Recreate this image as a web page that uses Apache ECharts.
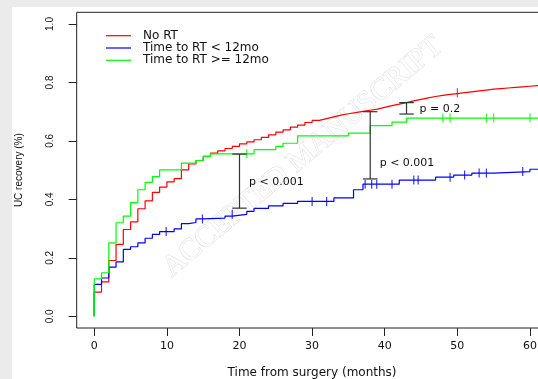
<!DOCTYPE html>
<html>
<head>
<meta charset="utf-8">
<script src="https://cdn.jsdelivr.net/npm/echarts@6/dist/echarts.min.js"></script>
<style>
html, body { margin: 0; padding: 0; background: #ebebeb; }
#chart { position: absolute; left: 12px; top: 7px; width: 526px; height: 372px; background: #fff; }
</style>
</head>
<body>
<div id="chart"></div>
<script>
// Kaplan-Meier style step curves
const seriesNames = ['No RT', 'Time to RT < 12mo', 'Time to RT >= 12mo']

const redT = [0, 0, 1, 2, 3, 4, 5, 6, 7, 8, 9, 10, 11, 12, 13, 14, 15, 16, 17, 18, 19, 20,
  21, 22, 23, 24, 25, 26, 27, 28, 29, 30, 31, 32, 33, 34, 35, 36, 37, 38, 39, 40,
  41, 42, 43, 44, 45, 46, 47, 48, 49, 50, 51, 52, 53, 54, 55, 56, 57, 58, 59, 60, 61, 62]
const redV = [0, 0.083, 0.118, 0.191, 0.246, 0.297, 0.323, 0.368, 0.395, 0.424, 0.442, 0.46, 0.471,
  0.501, 0.521, 0.533, 0.547, 0.558, 0.566, 0.574, 0.581, 0.59, 0.597, 0.604, 0.612, 0.621,
  0.63, 0.638, 0.647, 0.654, 0.663, 0.67, 0.676, 0.682, 0.688, 0.693, 0.697, 0.701, 0.705,
  0.709, 0.715, 0.721, 0.726, 0.731, 0.737, 0.742, 0.747, 0.752, 0.756, 0.759, 0.762, 0.765,
  0.768, 0.771, 0.774, 0.777, 0.779, 0.781, 0.783, 0.785, 0.787, 0.789, 0.791, 0.791]
const redCensor = [50]

const blueT = [0, 0, 1, 2, 3, 4, 5, 6, 7, 8, 9, 11, 12, 13, 14, 15, 18, 19, 21, 22, 24, 26, 28,
  33, 35.7, 37, 42, 47, 49.5, 52, 55, 60, 62]
const blueV = [0, 0.109, 0.131, 0.168, 0.186, 0.229, 0.238, 0.251, 0.267, 0.28, 0.29, 0.299, 0.317,
  0.321, 0.333, 0.336, 0.343, 0.349, 0.359, 0.369, 0.378, 0.386, 0.393, 0.405, 0.433, 0.452,
  0.466, 0.476, 0.483, 0.49, 0.495, 0.503, 0.503]
const blueCensor = [9.9, 14.9, 19, 30, 32, 37.3, 38.2, 38.9, 41, 44, 44.6, 49, 51, 53, 54, 59]

const greenT = [0, 0, 1, 2, 3, 4, 5, 6, 7, 8, 9, 12, 14, 15, 16, 22, 25, 26, 28, 35, 38, 41, 43, 62]
const greenV = [0, 0.128, 0.149, 0.251, 0.32, 0.343, 0.389, 0.433, 0.458, 0.478, 0.501, 0.524,
  0.533, 0.547, 0.556, 0.57, 0.581, 0.592, 0.617, 0.627, 0.652, 0.664, 0.678, 0.678]
const greenCensor = [21, 48, 49, 54, 55, 60]

// p-value bars: time, lower, upper
const barT = [20, 38, 43]
const barLow = [0.37, 0.47, 0.692]
const barHigh = [0.555, 0.70, 0.731]
const noteT = [21.3, 39.3, 44.8]
const noteV = [0.458, 0.524, 0.709]
const noteText = ['p < 0.001', 'p < 0.001', 'p = 0.2']

const xTicks = [0, 10, 20, 30, 40, 50, 60]
const yTicks = [0, 0.2, 0.4, 0.6, 0.8, 1.0]

const colors = ['#ff0000', '#0000ff', '#00ff00']
// horizontal text in the figure is wide, vertical text is narrow
const wideFont = '"DejaVu Sans", Verdana, sans-serif'
const narrowFont = '"Liberation Sans", Arial, sans-serif'

function pairs(ts, vs) {
  return ts.map((t, i) => [t, vs[i]])
}
// value of the step curve at time t
function stepAt(ts, vs, t) {
  let v = vs[0]
  for (let i = 0; i < ts.length; i++) {
    if (ts[i] <= t) v = vs[i]
  }
  return v
}
function censorPts(ts, vs, cs) {
  return cs.map(c => [c, stepAt(ts, vs, c)])
}

const chart = echarts.init(document.getElementById('chart'))

function curve(name, ts, vs, color) {
  return {
    name: name,
    type: 'line',
    step: 'end',
    data: pairs(ts, vs),
    showSymbol: false,
    lineStyle: { color: color, width: 1.2 },
    itemStyle: { color: color },
    z: 3
  }
}
function marks(name, pts, color) {
  return {
    name: name,
    type: 'scatter',
    data: pts,
    symbol: 'rect',
    symbolSize: [1.2, 9],
    itemStyle: { color: color },
    z: 4
  }
}

chart.setOption({
  animation: false,
  textStyle: { fontFamily: wideFont },
  grid: {
    left: 64.7, top: 5.3, width: 470.7, height: 315.7,
    outerBoundsMode: 'none', containLabel: false,
    show: true, borderColor: '#222', borderWidth: 1
  },
  legend: {
    data: seriesNames.map((n, i) => ({ name: n, itemStyle: { color: colors[i] } })),
    orient: 'vertical',
    left: 94,
    top: 22.7,
    padding: 0,
    icon: 'rect',
    itemWidth: 25,
    itemHeight: 1.2,
    itemGap: 0.3,
    textStyle: { fontSize: 12, color: '#111', lineHeight: 12, padding: [0, 0, 0, 7], fontFamily: wideFont }
  },
  graphic: [{
    type: 'text',
    x: 291,
    y: 150,
    rotation: 40 * Math.PI / 180,
    z: -10,
    style: {
      text: 'ACCEPTED MANUSCRIPT',
      font: '30px "Liberation Serif", "DejaVu Serif", serif',
      fill: '#fff',
      stroke: '#dcdcdc',
      lineWidth: 1,
      align: 'center',
      verticalAlign: 'middle'
    }
  }],
  xAxis: {
    type: 'value',
    min: -2.42,
    max: 62.4,
    name: 'Time from surgery (months)',
    nameLocation: 'middle',
    nameGap: 38.5,
    nameTextStyle: { fontSize: 12, color: '#111', fontFamily: wideFont },
    axisLine: { show: false, onZero: false },
    splitLine: { show: false },
    axisTick: { show: true, length: 8, lineStyle: { color: '#222' }, customValues: xTicks },
    axisLabel: { fontSize: 11, color: '#111', margin: 12.5, customValues: xTicks, fontFamily: wideFont }
  },
  yAxis: {
    type: 'value',
    min: -0.04,
    max: 1.04,
    name: 'UC recovery (%)',
    nameLocation: 'middle',
    nameGap: 52,
    nameTextStyle: { fontSize: 10, color: '#111', fontFamily: narrowFont },
    axisLine: { show: false, onZero: false },
    splitLine: { show: false },
    axisTick: { show: true, length: 8, lineStyle: { color: '#222' }, customValues: yTicks },
    axisLabel: { fontSize: 10, color: '#111', margin: 21.5, rotate: 90, customValues: yTicks,
      fontFamily: narrowFont, formatter: v => v.toFixed(1) }
  },
  series: [
    curve(seriesNames[0], redT, redV, colors[0]),
    curve(seriesNames[1], blueT, blueV, colors[1]),
    curve(seriesNames[2], greenT, greenV, colors[2]),
    marks('c0', censorPts(redT, redV, redCensor), colors[0]),
    marks('c1', censorPts(blueT, blueV, blueCensor), colors[1]),
    marks('c2', censorPts(greenT, greenV, greenCensor), colors[2]),
    {
      name: 'bars',
      type: 'custom',
      data: barT.map((t, i) => [t, barLow[i], barHigh[i]]),
      z: 5,
      renderItem: function (params, api) {
        const lo = api.coord([api.value(0), api.value(1)])
        const hi = api.coord([api.value(0), api.value(2)])
        const hw = api.size([1, 0])[0]
        const st = { stroke: '#333', lineWidth: 1.2 }
        return {
          type: 'group',
          children: [
            { type: 'line', shape: { x1: lo[0], y1: lo[1], x2: hi[0], y2: hi[1] }, style: st },
            { type: 'line', shape: { x1: lo[0] - hw, y1: lo[1], x2: lo[0] + hw, y2: lo[1] }, style: st },
            { type: 'line', shape: { x1: hi[0] - hw, y1: hi[1], x2: hi[0] + hw, y2: hi[1] }, style: st }
          ]
        }
      }
    },
    {
      name: 'notes',
      type: 'custom',
      data: noteT.map((t, i) => [t, noteV[i], i]),
      z: 5,
      renderItem: function (params, api) {
        const p = api.coord([api.value(0), api.value(1)])
        return {
          type: 'text',
          x: p[0],
          y: p[1],
          style: {
            text: noteText[api.value(2)],
            font: '11px ' + wideFont,
            fill: '#111',
            align: 'left',
            verticalAlign: 'middle'
          }
        }
      }
    }
  ]
})
</script>
</body>
</html>
